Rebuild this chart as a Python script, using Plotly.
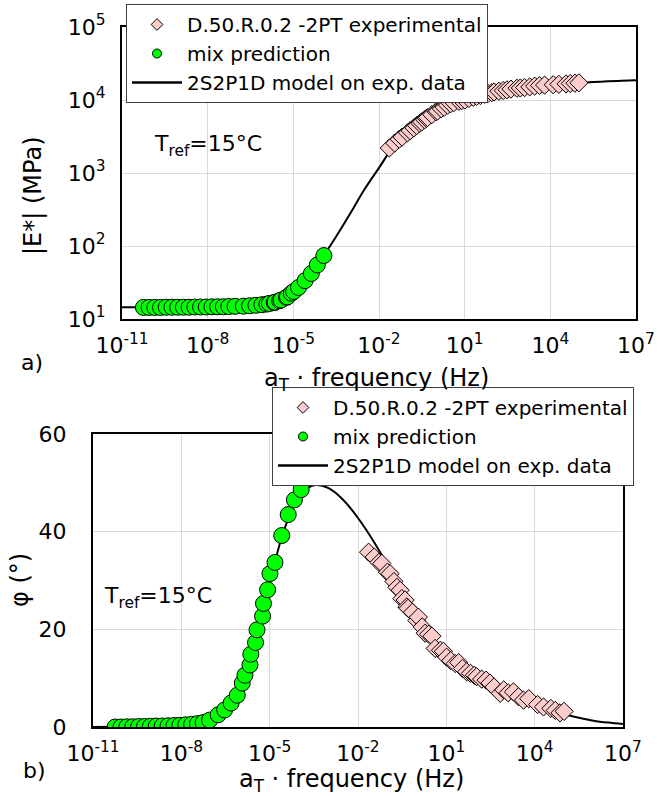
import plotly.graph_objects as go

# ---------------- data ----------------
# experimental (D.50.R.0.2 -2PT) : log10 of reduced frequency
exp_logf = [-1.64, -1.45, -1.29, -1.19, -1.00, -0.91, -0.78, -0.68, -0.57, -0.51,
            -0.40, -0.34, -0.30, -0.15, 0.00, 0.05, 0.18, 0.28, 0.40, 0.51,
            0.62, 0.80, 0.90, 1.01, 1.15, 1.30, 1.42, 1.55, 1.69, 1.82,
            1.95, 2.03, 2.20, 2.35, 2.48, 2.62, 2.83, 2.95, 3.10, 3.28,
            3.45, 3.62, 3.80, 4.10, 4.30, 4.55, 4.70, 4.86, 5.00]
exp_E = [2200, 2570, 2900, 3100, 3550, 3800, 4150, 4450, 4800, 5000,
         5350, 5600, 5750, 6300, 6900, 7050, 7600, 7950, 8500, 8900,
         9200, 9600, 9800, 10000, 10500, 10900, 11200, 11500, 12000, 12300,
         12600, 12900, 13200, 13500, 13800, 14100, 14500, 14600, 14800, 15100,
         15500, 15800, 16000, 16200, 16400, 16600, 16800, 17000, 17200]
exp_phi = [35.8, 34.8, 33.7, 33.5, 31.7, 31.4, 29.8, 28.6, 28.0, 26.3,
           26.0, 24.6, 24.3, 23.5, 21.8, 22.5, 20.5, 19.2, 19.0, 18.6,
           16.1, 15.7, 15.5, 14.3, 13.6, 13.0, 13.2, 12.0, 11.3, 11.0,
           10.6, 10.3, 9.8, 9.6, 9.0, 8.2, 6.9, 7.6, 7.0, 7.2,
           6.2, 5.5, 5.8, 4.6, 4.1, 3.8, 3.4, 2.9, 3.2]

# mix prediction
mix_logf = [-10.25, -10.05, -9.85, -9.65, -9.45, -9.25, -9.05, -8.85, -8.65, -8.45,
            -8.25, -8.05, -7.85, -7.65, -7.45, -7.26, -7.04, -6.75, -6.53, -6.31,
            -6.10, -5.93, -5.84, -5.67, -5.64, -5.48, -5.43, -5.24, -5.21, -5.07,
            -4.99, -4.82, -4.59, -4.37, -4.16, -3.93]
mix_E = [14.4, 14.4, 14.4, 14.4, 14.5, 14.5, 14.5, 14.5, 14.5, 14.6,
         14.6, 14.6, 14.7, 14.7, 14.7, 14.8, 14.9, 15.0, 15.2, 15.4,
         15.7, 16.0, 16.3, 16.8, 17.0, 17.8, 18.2, 19.8, 20.1, 22.5,
         23.8, 27.0, 33.5, 42.0, 55.0, 74.0]
mix_phi = [0.0, 0.0, 0.05, 0.05, 0.1, 0.1, 0.15, 0.2, 0.2, 0.25,
           0.3, 0.35, 0.45, 0.55, 0.7, 0.9, 1.4, 2.5, 3.5, 4.9,
           6.5, 9.0, 10.6, 12.7, 14.9, 17.3, 19.9, 22.7, 25.3, 28.1,
           31.4, 33.7, 39.2, 43.5, 46.5, 48.6]

# 2S2P1D model curve
model_logf = [-11, -10, -9, -8, -7, -6.5, -6, -5.5, -5, -4.5, -4, -3.5, -3, -2.5, -2,
              -1.5, -1, -0.5, 0, 0.5, 1, 1.5, 2, 2.5, 3, 3.5, 4, 4.5, 5, 5.5, 6, 6.5, 7]
model_E = [14.5, 14.5, 14.5, 14.6, 14.8, 15.1, 15.8, 17.8, 23.4, 35.5, 67.6, 135, 282,
           603, 1175, 2290, 3550, 5010, 6920, 8710, 10000, 11500, 12900, 13800, 14800,
           15500, 16200, 16800, 17200, 17600, 18000, 18300, 18600]
model_phi = [0.0, 0.05, 0.1, 0.3, 1.3, 3.3, 7.5, 16.5, 29.5, 40.5, 47.2, 49.5, 48.9,
             46.5, 42.8, 38.3, 33.2, 27.8, 22.8, 18.6, 15.2, 12.4, 10.2, 8.4, 6.9, 5.6,
             4.5, 3.5, 2.6, 1.9, 1.3, 0.9, 0.6]

x_tickvals = [1e-11, 1e-8, 1e-5, 1e-2, 1e1, 1e4, 1e7]
x_ticktext = ["10<sup>-11</sup>", "10<sup>-8</sup>", "10<sup>-5</sup>", "10<sup>-2</sup>",
              "10<sup>1</sup>", "10<sup>4</sup>", "10<sup>7</sup>"]
yE_tickvals = [1e1, 1e2, 1e3, 1e4, 1e5]
yE_ticktext = ["10<sup>1</sup>", "10<sup>2</sup>", "10<sup>3</sup>", "10<sup>4</sup>", "10<sup>5</sup>"]
yphi_tickvals = [0, 20, 40, 60]
yphi_ticktext = ["0", "20", "40", "60"]

names = ["D.50.R.0.2 -2PT experimental", "mix prediction", "2S2P1D model on exp. data"]

# ---------------- styling ----------------
W, H = 665, 796
FONT = "DejaVu Sans"
PINK = "#FFCCCC"
GREEN = "#00FF00"

def px(v): return v / W
def py(v): return 1 - v / H

exp_f = [10 ** v for v in exp_logf]
mix_f = [10 ** v for v in mix_logf]
model_f = [10 ** v for v in model_logf]

fig = go.Figure()

panels = [
    dict(xa="x", ya="y", leg="legend", yexp=exp_E, ymix=mix_E, ymod=model_E),
    dict(xa="x2", ya="y2", leg="legend2", yexp=exp_phi, ymix=mix_phi, ymod=model_phi),
]
for p in panels:
    fig.add_trace(go.Scatter(x=model_f, y=p["ymod"], mode="lines", line=dict(color="black", width=2, shape="spline"),
                             xaxis=p["xa"], yaxis=p["ya"], showlegend=False, hoverinfo="skip"))
    fig.add_trace(go.Scatter(x=mix_f, y=p["ymix"], mode="markers",
                             marker=dict(symbol="circle", size=16, color=GREEN, line=dict(color="black", width=1)),
                             xaxis=p["xa"], yaxis=p["ya"], showlegend=False))
    fig.add_trace(go.Scatter(x=exp_f, y=p["yexp"], mode="markers",
                             marker=dict(symbol="diamond", size=14, color=PINK, line=dict(color="black", width=1)),
                             xaxis=p["xa"], yaxis=p["ya"], showlegend=False))
    # legend entries
    fig.add_trace(go.Scatter(x=[None], y=[None], mode="markers", name=names[0], legend=p["leg"],
                             marker=dict(symbol="diamond", size=9, color=PINK, line=dict(color="black", width=1)),
                             xaxis=p["xa"], yaxis=p["ya"]))
    fig.add_trace(go.Scatter(x=[None], y=[None], mode="markers", name=names[1], legend=p["leg"],
                             marker=dict(symbol="circle", size=9, color=GREEN, line=dict(color="black", width=1)),
                             xaxis=p["xa"], yaxis=p["ya"]))
    fig.add_trace(go.Scatter(x=[None], y=[None], mode="lines", name=names[2], legend=p["leg"],
                             line=dict(color="black", width=2.5),
                             xaxis=p["xa"], yaxis=p["ya"]))

axis_common = dict(showline=True, linecolor="black", linewidth=2, mirror=True, automargin=False,
                   showgrid=True, gridcolor="#d9d9d9", gridwidth=1, zeroline=False,
                   ticks="", tickfont=dict(family=FONT, size=22, color="black"))

leg_common = dict(xanchor="left", yanchor="top", bgcolor="white", bordercolor="#404040", borderwidth=1,
                  font=dict(family=FONT, size=20, color="black"), tracegroupgap=0, itemwidth=50)

fig.update_layout(
    width=W, height=H, margin=dict(l=0, r=0, t=0, b=0, autoexpand=False),
    paper_bgcolor="white", plot_bgcolor="white",
    font=dict(family=FONT, color="black"),
    xaxis=dict(axis_common, type="log", range=[-11, 7], domain=[px(122), px(636)],
               tickvals=x_tickvals, ticktext=x_ticktext, anchor="y", ticklabelstandoff=6),
    yaxis=dict(axis_common, type="log", range=[1, 5], domain=[py(319), py(27)],
               tickvals=yE_tickvals, ticktext=yE_ticktext, anchor="x", ticklabelstandoff=10),
    xaxis2=dict(axis_common, type="log", range=[-11, 7], domain=[px(93), px(623)],
                tickvals=x_tickvals, ticktext=x_ticktext, anchor="y2", ticklabelstandoff=6),
    yaxis2=dict(axis_common, range=[0, 60], domain=[py(727), py(434)],
                tickvals=yphi_tickvals, ticktext=yphi_ticktext, anchor="x2", ticklabelstandoff=20),
    legend=dict(leg_common, x=px(126), y=py(4)),
    legend2=dict(leg_common, x=px(272), y=py(387)),
)

ann_font = dict(family=FONT, size=22, color="black")
title_font = dict(family=FONT, size=24, color="black")
annotations = [
    dict(text="T<sub>ref</sub>=15°C", x=px(152), y=py(146), xanchor="left", yanchor="middle", font=ann_font),
    dict(text="T<sub>ref</sub>=15°C", x=px(102), y=py(597), xanchor="left", yanchor="middle", font=ann_font),
    dict(text="|E*| (MPa)", x=px(33), y=py(196), textangle=-90, xanchor="center", yanchor="middle", font=title_font),
    dict(text="φ (°)", x=px(20), y=py(580), textangle=-90, xanchor="center", yanchor="middle", font=title_font),
    dict(text="a<sub>T</sub> · frequency (Hz)", x=px(376), y=py(380), xanchor="center", yanchor="middle", font=title_font),
    dict(text="a<sub>T</sub> · frequency (Hz)", x=px(351), y=py(780), xanchor="center", yanchor="middle", font=title_font),
    dict(text="a)", x=px(32), y=py(362), xanchor="center", yanchor="middle", font=ann_font),
    dict(text="b)", x=px(34), y=py(770), xanchor="center", yanchor="middle", font=ann_font),
]
for a in annotations:
    fig.add_annotation(xref="paper", yref="paper", showarrow=False, **a)

fig.write_html("out.html", config={"displayModeBar": False},
               post_script="document.body.style.margin='0';document.body.style.overflow='hidden';")
